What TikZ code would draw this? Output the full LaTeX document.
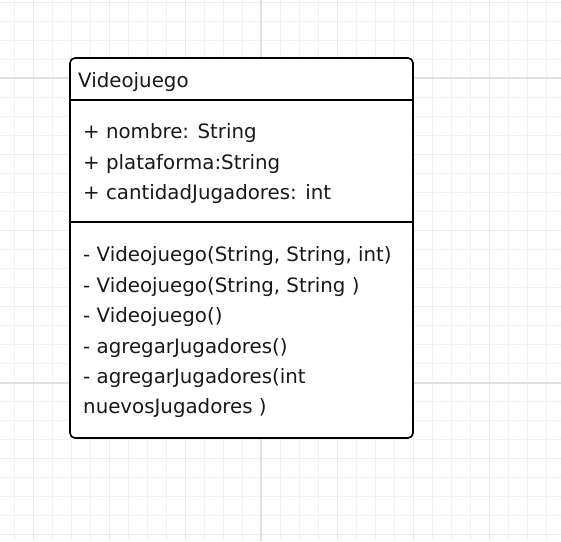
\documentclass[tikz,border=0pt]{standalone}
\usepackage{fontspec}
\setmainfont{DejaVu Sans}
\usetikzlibrary{positioning}

\begin{document}
\begin{tikzpicture}[x=1pt,y=-1pt,
        grid line/.style={draw=black!5,line width=0.8pt},
        mid line/.style={draw=black!8,line width=1pt},
        major line/.style={draw=black!12,line width=1.2pt},
        class box/.style={rectangle,rounded corners=5pt,draw,line width=1.6pt,fill=white,
          minimum width=343pt,minimum height=380pt},
        member/.style={anchor=base west,inner sep=0pt,text=black!90,font=\fontsize{19.8}{24}\selectfont}]

        \useasboundingbox (0,0) rectangle (561,541);

        % grid
        \foreach \k in {0,...,28} {
          \draw[grid line] (14+19*\k,0) -- (14+19*\k,541);
          \draw[grid line] (0,2+19*\k) -- (561,2+19*\k);
        }
        \foreach \k in {1,5,...,25}
          \draw[mid line] (14+19*\k,0) -- (14+19*\k,541);
        \foreach \k in {0,4,...,28}
          \draw[mid line] (0,2+19*\k) -- (561,2+19*\k);
        \draw[major line] (261,0) -- (261,541);
        \draw[major line] (0,78) -- (561,78);
        \draw[major line] (0,383) -- (561,383);

        % class
        \node[class box] (0) at (241.5,248) {};
        \coordinate (s1) at (70,100);
        \coordinate (s2) at (70,222);
        \draw[line width=1.6pt] (0.west |- s1) -- (0.east |- s1);
        \draw[line width=1.6pt] (0.west |- s2) -- (0.east |- s2);

        \node[member] (1) at (78,87) {Videojuego};

        \foreach \t [count=\i] in {{+ nombre: String},{+ plataforma:String},{+ cantidadJugadores: int}}
          \node[member] (a\i) at (83,108.5+30.3*\i) {\t};

        \foreach \t [count=\i] in {{- Videojuego(String, String, int)},{- Videojuego(String, String )},
            {- Videojuego()},{- agregarJugadores()},{- agregarJugadores(int},{nuevosJugadores )}}
          \node[member] (m\i) at (83,231.5+30.4*\i) {\t};
      \end{tikzpicture}
\end{document}
